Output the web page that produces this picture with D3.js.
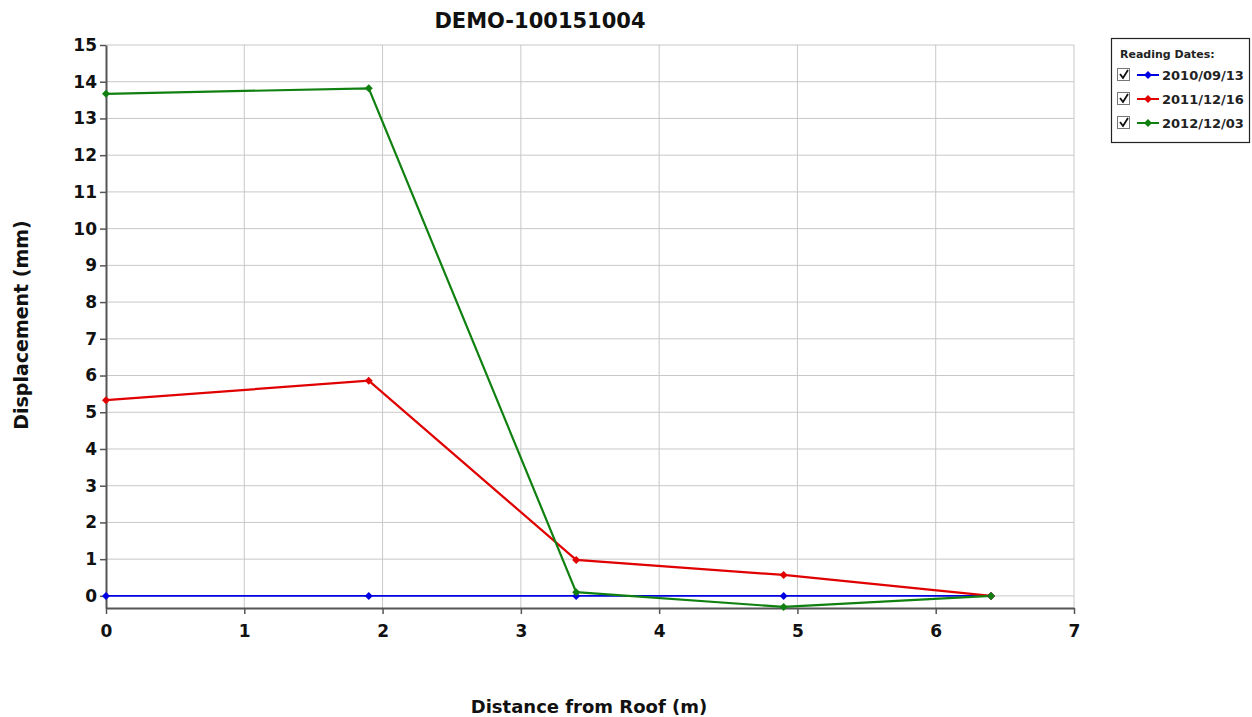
<!DOCTYPE html>
<html>
<head>
<meta charset="utf-8">
<script src="https://cdn.jsdelivr.net/npm/d3@7"></script>
<style>
  body { margin: 0; background: #fff; }
  svg { display: block; }
</style>
</head>
<body>
<div id="chart"></div>
<script>
const distances = [0, 1.9, 3.4, 4.9, 6.4];
const readingDates = ["2010/09/13", "2011/12/16", "2012/12/03"];
const disp20100913 = [0, 0, 0, 0, 0];
const disp20111216 = [5.33, 5.86, 0.98, 0.57, 0];
const disp20121203 = [13.67, 13.82, 0.1, -0.3, 0];
const seriesColors = ["#0000e0", "#e00000", "#108010"];
const xTicks = [0, 1, 2, 3, 4, 5, 6, 7];
const yTicks = d3.range(0, 16);

const series = [disp20100913, disp20111216, disp20121203].map((vals, i) => ({
  name: readingDates[i],
  color: seriesColors[i],
  points: vals.map((v, j) => ({ x: distances[j], y: v }))
}));

const width = 1252, height = 717;
const margin = { left: 106, right: 178, top: 45, bottom: 109 };

const svg = d3.select("#chart").append("svg")
  .attr("width", width)
  .attr("height", height);

const x = d3.scaleLinear().domain([0, 7]).range([margin.left, width - margin.right]);
const y = d3.scaleLinear().domain([-0.33, 15]).range([height - margin.bottom, margin.top]);

// grid
svg.append("g").selectAll("line.gx")
  .data(xTicks.slice(1))
  .enter().append("line")
  .attr("x1", d => x(d)).attr("x2", d => x(d))
  .attr("y1", y(15)).attr("y2", y(-0.33))
  .attr("stroke", "#c8c8c8").attr("stroke-width", 1);

svg.append("g").selectAll("line.gy")
  .data(yTicks)
  .enter().append("line")
  .attr("x1", x(0)).attr("x2", x(7))
  .attr("y1", d => y(d)).attr("y2", d => y(d))
  .attr("stroke", "#c8c8c8").attr("stroke-width", 1);

// axes
const xAxis = svg.append("g")
  .attr("transform", `translate(0,${y(-0.33)})`)
  .call(d3.axisBottom(x).tickValues(xTicks).tickSize(6).tickSizeOuter(0).tickFormat(d3.format("d")));
const yAxis = svg.append("g")
  .attr("transform", `translate(${x(0)},0)`)
  .call(d3.axisLeft(y).tickValues(yTicks).tickSize(6).tickSizeOuter(0).tickFormat(d3.format("d")));

[xAxis, yAxis].forEach(a => {
  a.select(".domain").attr("stroke", "#555").attr("stroke-width", 2);
  a.selectAll(".tick line").attr("stroke", "#555").attr("stroke-width", 1.5);
  a.selectAll("text")
    .attr("font-family", "'DejaVu Sans', Verdana, sans-serif")
    .attr("font-weight", "bold")
    .attr("font-size", 17)
    .attr("fill", "#111");
});
xAxis.selectAll("text").attr("dy", "1.2em");
yAxis.selectAll("text").attr("x", -9);

// lines
const line = d3.line().x(d => x(d.x)).y(d => y(d.y));
const diamond = d3.symbol().type(d3.symbolSquare).size(32);

series.forEach((s, i) => {
  svg.append("path")
    .datum(s.points)
    .attr("fill", "none")
    .attr("stroke", s.color)
    .attr("stroke-width", i === 0 ? 1.6 : 2.2)
    .attr("d", line);
});
series.forEach(s => {
  svg.append("g").selectAll("path")
    .data(s.points)
    .enter().append("path")
    .attr("d", diamond)
    .attr("transform", d => `translate(${x(d.x)},${y(d.y)}) rotate(45)`)
    .attr("fill", s.color);
});

// titles
const titleFont = "'DejaVu Sans', Verdana, sans-serif";
svg.append("text")
  .attr("x", 540).attr("y", 28)
  .attr("text-anchor", "middle")
  .attr("font-family", titleFont).attr("font-weight", "bold")
  .attr("font-size", 21).attr("fill", "#111")
  .text("DEMO-100151004");

svg.append("text")
  .attr("x", 589).attr("y", 713)
  .attr("text-anchor", "middle")
  .attr("font-family", titleFont).attr("font-weight", "bold")
  .attr("font-size", 18).attr("fill", "#111")
  .text("Distance from Roof (m)");

svg.append("text")
  .attr("transform", "translate(28,325) rotate(-90)")
  .attr("text-anchor", "middle")
  .attr("font-family", titleFont).attr("font-weight", "bold")
  .attr("font-size", 19).attr("fill", "#111")
  .text("Displacement (mm)");

// legend
const lg = svg.append("g").attr("transform", "translate(1111,38)");
lg.append("rect")
  .attr("x", 0.5).attr("y", 0.5).attr("width", 138).attr("height", 104)
  .attr("fill", "#fff").attr("stroke", "#222").attr("stroke-width", 1.2);
lg.append("text")
  .attr("x", 9).attr("y", 20)
  .attr("font-family", "'DejaVu Sans', Tahoma, sans-serif")
  .attr("font-weight", "bold").attr("font-size", 11).attr("fill", "#222")
  .text("Reading Dates:");

const item = lg.selectAll("g.item")
  .data(series)
  .enter().append("g")
  .attr("transform", (d, i) => `translate(0,${38 + i * 24})`);
item.append("rect")
  .attr("x", 6.5).attr("y", -7.5).attr("width", 12).attr("height", 12)
  .attr("fill", "#fff").attr("stroke", "#777");
item.append("path")
  .attr("d", "M9,-2 L12,2 L17,-6")
  .attr("fill", "none").attr("stroke", "#111").attr("stroke-width", 1.8);
item.append("line")
  .attr("x1", 26).attr("x2", 48).attr("y1", -1).attr("y2", -1)
  .attr("stroke", d => d.color).attr("stroke-width", 2);
item.append("path")
  .attr("d", diamond)
  .attr("transform", "translate(37,-1) rotate(45)")
  .attr("fill", d => d.color);
item.append("text")
  .attr("x", 51).attr("y", 4)
  .attr("font-family", "'DejaVu Sans', Tahoma, sans-serif")
  .attr("font-weight", "bold").attr("font-size", 13).attr("fill", "#222")
  .text(d => d.name);
</script>
</body>
</html>
